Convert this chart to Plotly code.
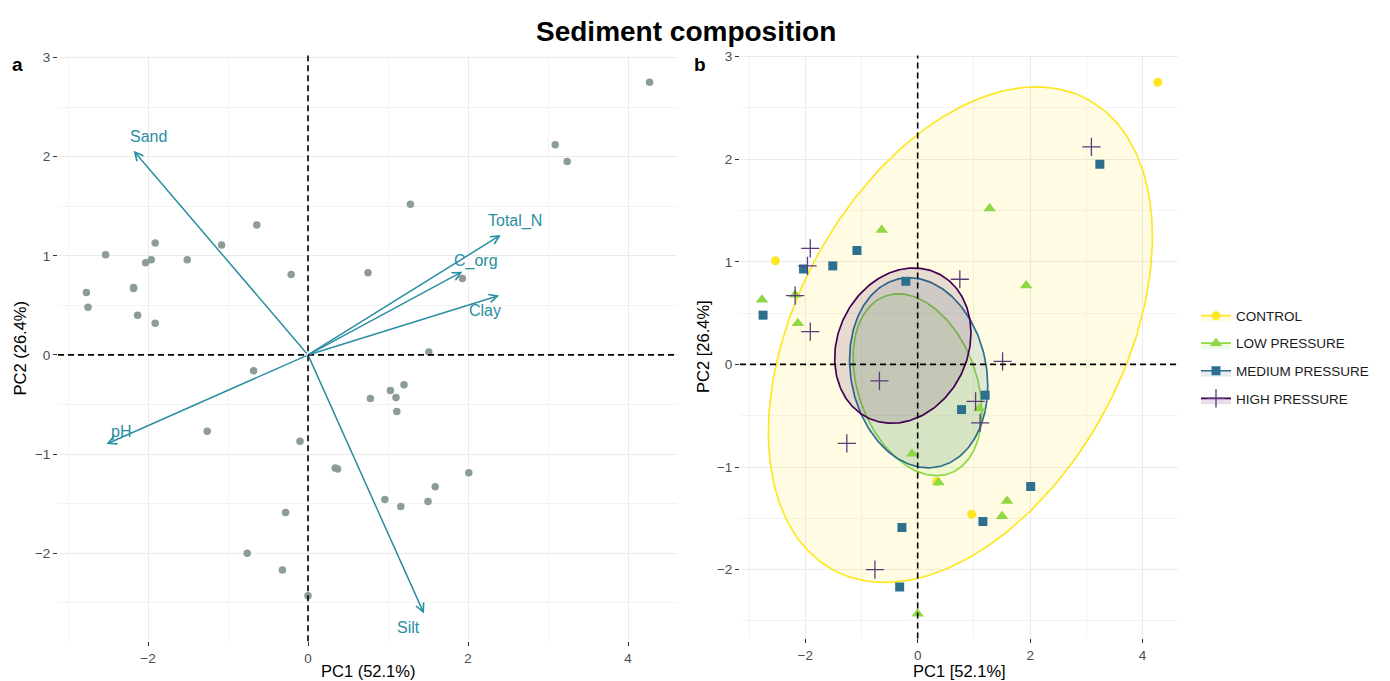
import numpy as np
import plotly.graph_objects as go

# ---------------- data ----------------
control_pc1 = [-2.53, 4.27, 0.34, 0.96]
control_pc2 = [1.01, 2.75, -1.14, -1.46]
low_pc1 = [-2.77, -2.18, -2.13, -0.64, 1.28, 1.93, -0.10, 1.10, 0.37, 1.59, 1.50, 0.00]
low_pc2 = [0.63, 0.68, 0.40, 1.31, 1.52, 0.77, -0.87, -0.43, -1.15, -1.33, -1.48, -2.43]
medium_pc1 = [-2.75, -2.03, -1.51, -1.08, -0.21, 3.24, 0.78, 1.20, 1.16, -0.28, -0.32, 2.01]
medium_pc2 = [0.48, 0.93, 0.96, 1.11, 0.81, 1.95, -0.44, -0.30, -1.53, -1.59, -2.17, -1.19]
high_pc1 = [-1.91, -1.96, -2.18, -1.91, 0.75, 3.09, -0.68, -1.26, 1.03, 1.11, -0.76, 1.51]
high_pc2 = [1.13, 0.96, 0.67, 0.32, 0.83, 2.12, -0.16, -0.77, -0.36, -0.57, -2.00, 0.03]

group_names = ["CONTROL", "LOW PRESSURE", "MEDIUM PRESSURE", "HIGH PRESSURE"]

var_names = ["Sand", "Total_N", "C_org", "Clay", "pH", "Silt"]
var_pc1 = [-2.18, 2.41, 1.93, 2.39, -2.52, 1.45]
var_pc2 = [2.06, 1.21, 0.84, 0.60, -0.90, -2.61]
label_pc1 = [-2.0, 2.59, 2.10, 2.21, -2.34, 1.25]
label_pc2 = [2.20, 1.35, 0.95, 0.45, -0.77, -2.75]

x_ticks = [-2, 0, 2, 4]
y_ticks = [-2, -1, 0, 1, 2, 3]

# ---------------- styles ----------------
FONT = "Liberation Sans, Arial, sans-serif"
group_colors = ["#FDE725", "#8FD744", "#2D708E", "#440154"]
group_symbols = ["circle", "triangle-up", "square", "cross-thin-open"]
group_sizes = [9, 11, 9, 13]
cross_color = "#5A3C7A"
arrow_color = "#2A8EA2"
point_color = "#8C9D97"
W, H = 1390, 681


def hex_rgba(h, a):
    h = h.lstrip("#")
    return "rgba(%d,%d,%d,%.3f)" % (int(h[0:2], 16), int(h[2:4], 16), int(h[4:6], 16), a)


def conf_ellipse(x, y, chi2=5.991, n_pts=240):
    x = np.asarray(x, float)
    y = np.asarray(y, float)
    n = len(x)
    cov = np.cov(x, y) * chi2 / n
    L = np.linalg.cholesky(cov)
    t = np.linspace(0, 2 * np.pi, n_pts)
    pts = L @ np.vstack([np.cos(t), np.sin(t)])
    return x.mean() + pts[0], y.mean() + pts[1]


groups_x = [control_pc1, low_pc1, medium_pc1, high_pc1]
groups_y = [control_pc2, low_pc2, medium_pc2, high_pc2]
all_x = sum(groups_x, [])
all_y = sum(groups_y, [])

fig = go.Figure()

# ---------------- panel a ----------------
fig.add_trace(go.Scatter(x=all_x, y=all_y, mode="markers", xaxis="x", yaxis="y",
                         marker=dict(color=point_color, size=7.5), showlegend=False,
                         hoverinfo="skip"))

# ---------------- panel b ----------------
for gx, gy, col in zip(groups_x, groups_y, group_colors):
    ex, ey = conf_ellipse(gx, gy)
    fig.add_trace(go.Scatter(x=ex, y=ey, mode="lines", fill="toself", xaxis="x2", yaxis="y2",
                             line=dict(color=col, width=1.7), fillcolor=hex_rgba(col, 0.13),
                             showlegend=False, hoverinfo="skip"))


def marker_for(col, sym, sz):
    mk = dict(color=col, size=sz, symbol=sym)
    if sym == "cross-thin-open":
        mk["line"] = dict(color=cross_color, width=1.3)
        mk["color"] = cross_color
    return mk


for gx, gy, col, sym, sz, name in zip(groups_x, groups_y, group_colors, group_symbols,
                                       group_sizes, group_names):
    fig.add_trace(go.Scatter(x=gx, y=gy, mode="markers", xaxis="x2", yaxis="y2",
                             marker=marker_for(col, sym, sz), name=name, legendgroup=name,
                             showlegend=False))
# legend entries
for col, sym, sz, name in zip(group_colors, group_symbols, group_sizes, group_names):
    fig.add_trace(go.Scatter(x=[None], y=[None], mode="lines+markers", fill="toself",
                             xaxis="x2", yaxis="y2", name=name, legendgroup=name,
                             line=dict(color=col, width=1.7), fillcolor=hex_rgba(col, 0.13),
                             marker=marker_for(col, sym, sz)))

# ---------------- axes ----------------
axis_common = dict(showline=False, zeroline=False, showgrid=True, gridcolor="#EBEBEB",
                   gridwidth=1.1, ticks="outside", ticklen=4, tickwidth=1.3,
                   tickcolor="#333333", tickfont=dict(family=FONT, size=13.5, color="#4D4D4D"))


def minor(dt, t0):
    return dict(dtick=dt, tick0=t0, showgrid=True, gridcolor="#F3F3F3", gridwidth=0.6, ticks="")


pa_l, pa_r, pa_t, pa_b = 58, 677, 50, 641
pb_l, pb_r, pb_t, pb_b = 740, 1178, 50, 638

fig.update_layout(
    width=W, height=H, margin=dict(l=0, r=0, t=0, b=0),
    plot_bgcolor="white", paper_bgcolor="white",
    xaxis=dict(domain=[pa_l / W, pa_r / W], range=[-3.125, 4.6125], anchor="y",
               tickvals=x_ticks, minor=minor(1, -3), **axis_common),
    yaxis=dict(domain=[1 - pa_b / H, 1 - pa_t / H], range=[-2.89, 3.02], anchor="x",
               tickvals=y_ticks, minor=minor(0.5, 0.5), **axis_common),
    xaxis2=dict(domain=[pb_l / W, pb_r / W], range=[-3.16, 4.63], anchor="y2",
                tickvals=x_ticks, minor=minor(1, -3), **axis_common),
    yaxis2=dict(domain=[1 - pb_b / H, 1 - pb_t / H], range=[-2.67, 3.01], anchor="x2",
                tickvals=y_ticks, minor=minor(0.5, 0.5), **axis_common),
    legend=dict(x=1196 / W, y=1 - 297 / H, xanchor="left", yanchor="top",
                font=dict(family=FONT, size=13.5, color="#1A1A1A"),
                tracegroupgap=7, itemwidth=30, bgcolor="rgba(0,0,0,0)"),
    font=dict(family=FONT),
)

# dashed reference lines
shapes = []
for xr, yr in (("x", "y"), ("x2", "y2")):
    shapes.append(dict(type="line", xref=xr, yref=yr + " domain", x0=0, x1=0, y0=0, y1=1,
                       line=dict(color="black", width=1.6, dash="6px,4px"), layer="above"))
    shapes.append(dict(type="line", xref=xr + " domain", yref=yr, x0=0, x1=1, y0=0, y1=0,
                       line=dict(color="black", width=1.6, dash="6px,4px"), layer="above"))
fig.update_layout(shapes=shapes)

annotations = []
# arrows
for nm, vx, vy, lx, ly in zip(var_names, var_pc1, var_pc2, label_pc1, label_pc2):
    annotations.append(dict(x=vx, y=vy, ax=0, ay=0, xref="x", yref="y", axref="x", ayref="y",
                            showarrow=True, arrowhead=5, arrowsize=1.1, arrowwidth=1.5,
                            arrowcolor=arrow_color, text=""))
    annotations.append(dict(x=lx, y=ly, xref="x", yref="y", text=nm, showarrow=False,
                            xanchor="center", yanchor="middle",
                            font=dict(family=FONT, size=16, color=arrow_color)))


def ptext(px, py, text, size, angle=0):
    return dict(x=px / W, y=1 - py / H, xref="paper", yref="paper", text=text,
                showarrow=False, xanchor="center", yanchor="middle", textangle=angle,
                font=dict(family=FONT, size=size, color="black"))


annotations += [
    ptext(686, 26, "<b>Sediment composition</b>", 28),
    ptext(17, 59, "<b>a</b>", 19),
    ptext(700, 59, "<b>b</b>", 19),
    ptext((pa_l + pa_r) / 2, 671, "PC1 (52.1%)", 16.5),
    ptext((pb_l + pb_r) / 2, 671, "PC1 [52.1%]", 16.5),
    ptext(20, (pa_t + pa_b) / 2, "PC2 (26.4%)", 16.5, -90),
    ptext(703, (pb_t + pb_b) / 2, "PC2 [26.4%]", 16.5, -90),
]
fig.update_layout(annotations=annotations)

fig.write_html("out.html", config={"displayModeBar": False},
               post_script="document.body.style.margin='0';document.body.style.overflow='hidden';")
